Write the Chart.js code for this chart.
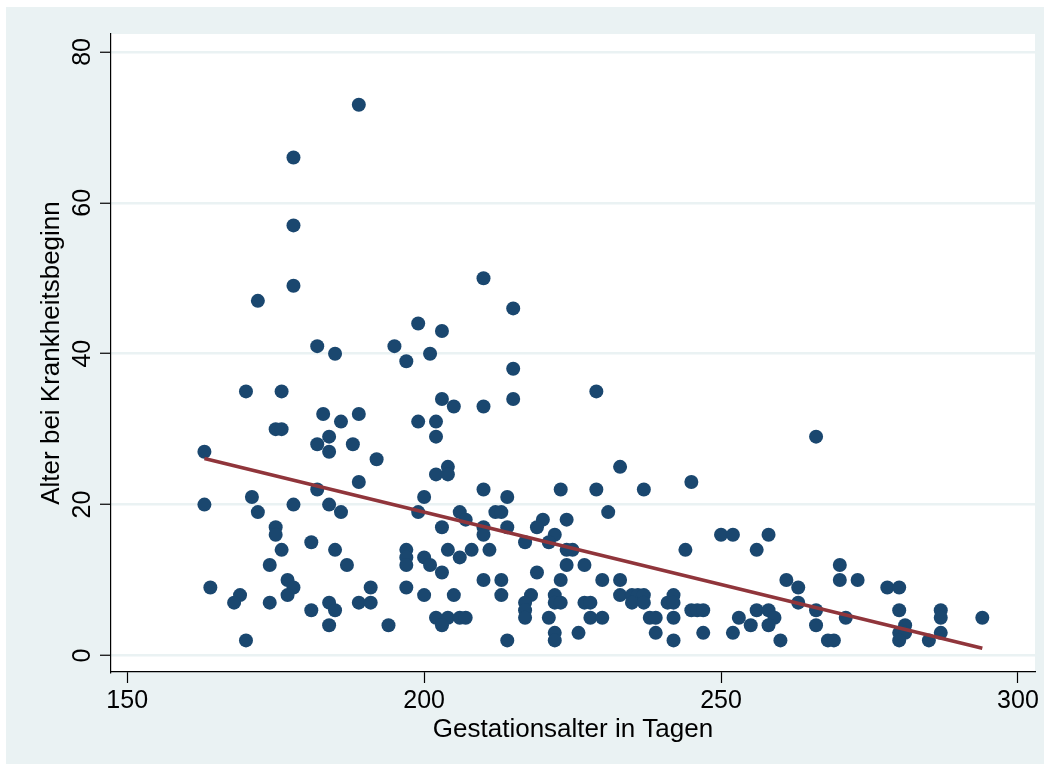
<!DOCTYPE html>
<html>
<head>
<meta charset="utf-8">
<script src="https://cdn.jsdelivr.net/npm/chart.js@4"></script>
<style>
  html, body { margin: 0; padding: 0; background: #ffffff; }
  #wrap { width: 1050px; height: 771px; position: relative; }
</style>
</head>
<body>
<div id="wrap"><canvas id="c" width="1050" height="771"></canvas></div>
<script>
// ---- data ----
const gestDays = [
  189,178,178,178,172,182,185,195,197,199,
  170,176,183,186,189,175,176,184,182,184,
  188,192,199,163,189,182,171,163,178,184,
  172,186,199,175,175,176,181,185,174,187,
  197,197,197,164,169,168,174,177,178,177,
  181,184,185,184,189,191,191,194,197,170,
  200,200,200,201,210,215,203,215,215,229,
  203,205,210,202,202,204,202,204,233,210,
  223,229,237,214,206,207,212,213,231,203,
  210,210,214,220,219,224,222,221,217,204,
  208,211,224,225,201,206,203,224,227,219,
  210,213,223,230,233,205,213,218,222,222,
  223,217,217,217,227,228,233,235,236,237,
  235,237,202,204,206,207,203,221,228,230,
  238,214,222,222,226,245,266,244,250,252,
  258,256,270,261,270,273,278,263,263,266,
  271,266,268,269,260,242,241,242,239,242,
  239,242,245,246,247,247,252,253,255,256,
  258,259,258,280,280,281,280,281,280,285,
  287,287,287,294
];
const ageOnset = [
  73,66,57,49,47,41,40,41,39,44,
  35,35,32,31,32,30,30,29,28,27,
  28,26,31,27,23,22,21,20,20,20,
  19,19,19,17,16,14,15,14,12,12,
  14,13,12,9,8,7,7,10,9,8,
  6,7,6,4,7,7,9,4,9,2,
  21,13,8,40,50,46,43,38,34,35,
  34,33,33,31,29,25,24,24,25,22,
  22,22,22,21,19,18,19,19,19,17,
  17,16,17,18,17,18,16,15,15,14,
  14,14,14,14,12,13,11,12,12,11,
  10,10,10,10,10,8,8,8,8,7,
  7,7,6,5,7,7,8,8,8,8,
  7,7,5,5,5,5,4,5,5,5,
  5,2,3,2,3,23,29,14,16,16,
  16,14,12,10,10,10,9,9,7,6,
  5,4,2,2,2,8,7,7,5,5,
  3,2,6,6,6,3,3,5,4,6,
  6,5,4,9,6,4,3,3,2,2,
  6,5,3,5
];
// fitted line
const fitX = [163, 294];
const fitY = [26.1, 0.95];
// axis ticks
const xTicks = [150, 200, 250, 300];
const yTicks = [0, 20, 40, 60, 80];
const xTitle = 'Gestationsalter in Tagen';
const yTitle = 'Alter bei Krankheitsbeginn';

// ---- build ----
const points = gestDays.map((x, i) => ({ x: x, y: ageOnset[i] }));
const fitPts = fitX.map((x, i) => ({ x: x, y: fitY[i] }));

const FONT = 'Liberation Sans, Arial, Helvetica, sans-serif';
const BG = '#eaf2f3';

const bgPlugin = {
  id: 'bg',
  beforeDraw(chart) {
    const { ctx, chartArea } = chart;
    ctx.save();
    ctx.fillStyle = '#ffffff';
    ctx.fillRect(0, 0, chart.width, chart.height);
    ctx.fillStyle = BG;
    ctx.fillRect(6, 7, chart.width - 12, chart.height - 14);
    ctx.fillStyle = '#ffffff';
    ctx.fillRect(chartArea.left, chartArea.top, chartArea.right - chartArea.left, chartArea.bottom - chartArea.top);
    ctx.restore();
  }
};

new Chart(document.getElementById('c'), {
  type: 'scatter',
  data: {
    datasets: [
      {
        data: fitPts,
        showLine: true,
        borderColor: '#90353b',
        borderWidth: 3.5,
        pointRadius: 0,
        fill: false,
        order: 0
      },
      {
        data: points,
        backgroundColor: '#1a476f',
        borderColor: '#1a476f',
        borderWidth: 0,
        pointRadius: 7,
        order: 1
      }
    ]
  },
  options: {
    responsive: false,
    animation: false,
    devicePixelRatio: 1,
    layout: { padding: { left: 0, right: 15, top: 34, bottom: 0 } },
    plugins: { legend: { display: false }, tooltip: { enabled: false } },
    scales: {
      x: {
        type: 'linear',
        min: 147.27,
        max: 302.87,
        afterFit: s => { s.height = 99; },
        afterBuildTicks: s => { s.ticks = xTicks.map(v => ({ value: v })); },
        grid: {
          drawOnChartArea: false,
          drawTicks: true,
          tickLength: 11,
          tickColor: '#000000',
          tickWidth: 1.2
        },
        border: { display: true, color: '#000000', width: 1.2 },
        ticks: {
          autoSkip: false,
          maxRotation: 0,
          minRotation: 0,
          padding: 3,
          color: '#000000',
          font: { family: FONT, size: 25 }
        },
        title: {
          display: true,
          text: xTitle,
          color: '#000000',
          font: { family: FONT, size: 26 },
          padding: { top: 0, bottom: 26 }
        }
      },
      y: {
        type: 'linear',
        min: -2.19,
        max: 82.37,
        afterFit: s => { s.width = 111; },
        afterBuildTicks: s => { s.ticks = yTicks.map(v => ({ value: v })); },
        grid: {
          drawOnChartArea: true,
          color: BG,
          lineWidth: 2.5,
          drawTicks: true,
          tickLength: 11,
          tickColor: '#000000',
          tickWidth: 1.2
        },
        border: { display: true, color: '#000000', width: 1.2 },
        ticks: {
          autoSkip: false,
          minRotation: 90,
          maxRotation: 90,
          crossAlign: 'center',
          padding: 3,
          color: '#000000',
          font: { family: FONT, size: 25 }
        },
        title: {
          display: true,
          text: yTitle,
          color: '#000000',
          font: { family: FONT, size: 26 },
          padding: { top: 36, bottom: 0 }
        }
      }
    }
  },
  plugins: [bgPlugin]
});
</script>
</body>
</html>
